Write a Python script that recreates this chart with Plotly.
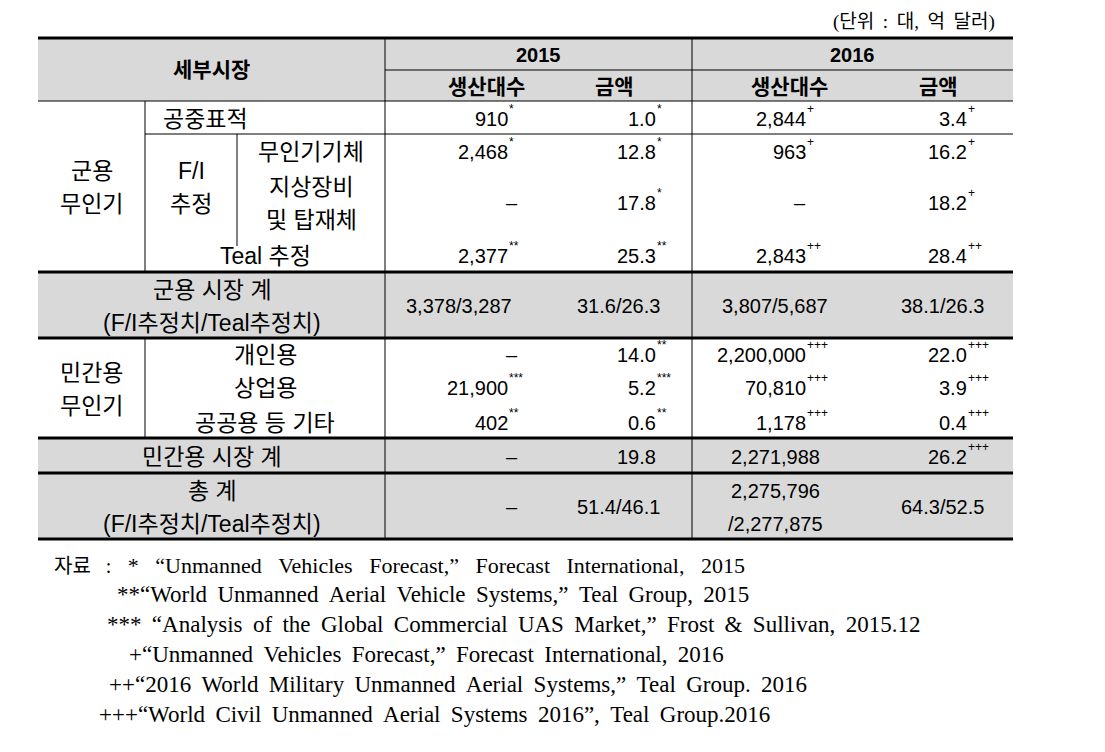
import plotly.graph_objects as go

# ---- data -------------------------------------------------------------
unit_note = "(단위 : 대, 억 달러)"
corner_label = "세부시장"
years = ["2015", "2016"]
sub_headers = ["생산대수", "금액"]

group_labels = [["군용", "무인기"], ["F/I", "추정"], ["민간용", "무인기"]]
row_labels = [
    ["공중표적"], ["무인기기체"], ["지상장비", "및 탑재체"], ["Teal 추정"],
    ["군용 시장 계", "(F/I추정치/Teal추정치)"],
    ["개인용"], ["상업용"], ["공공용 등 기타"],
    ["민간용 시장 계"], ["총 계", "(F/I추정치/Teal추정치)"],
]

prod_2015 = ["910", "2,468", "–", "2,377", "3,378/3,287", "–", "21,900", "402", "–", "–"]
mark_prod_2015 = ["*", "*", "", "**", "", "", "***", "**", "", ""]
amt_2015 = ["1.0", "12.8", "17.8", "25.3", "31.6/26.3", "14.0", "5.2", "0.6", "19.8", "51.4/46.1"]
mark_amt_2015 = ["*", "*", "*", "**", "", "**", "***", "**", "", ""]
prod_2016 = ["2,844", "963", "–", "2,843", "3,807/5,687", "2,200,000", "70,810", "1,178",
             "2,271,988", "2,275,796<br>/2,277,875"]
mark_prod_2016 = ["+", "+", "", "++", "", "+++", "+++", "+++", "", ""]
amt_2016 = ["3.4", "16.2", "18.2", "28.4", "38.1/26.3", "22.0", "3.9", "0.4", "26.2", "64.3/52.5"]
mark_amt_2016 = ["+", "+", "+", "++", "", "+++", "+++", "+++", "+++", ""]

source_lead = "자료 :"
sources = [
    "* “Unmanned Vehicles Forecast,” Forecast International, 2015",
    "**“World Unmanned Aerial Vehicle Systems,” Teal Group, 2015",
    "*** “Analysis of the Global Commercial UAS Market,” Frost &amp; Sullivan, 2015.12",
    "+“Unmanned Vehicles Forecast,” Forecast International, 2016",
    "++“2016 World Military Unmanned Aerial Systems,” Teal Group. 2016",
    "+++“World Civil Unmanned Aerial Systems 2016”, Teal Group.2016",
]

# ---- layout geometry (page pixels) -----------------------------------
W, H = 1105, 752
OFF = 8                          # page body margin
X0, X1 = 38, 1013
VX_LAB, VX_Y = 385, 692          # label | 2015 | 2016
VX_IN, VX_FI = 145, 237
Y_TOP, Y_YEAR, Y_HEAD = 38, 70, 101
Y_AIR = 134
Y_MIL, Y_MILSUM, Y_CIV, Y_CIVSUM, Y_BOT = 272, 338, 438, 473, 539
row_y = [119, 152, 203, 256, 306, 355, 388, 423, 457, 507]
right_x = [510, 658, 808, 969]
center_x = [459, 618, 775, 942]
GAP = 33
GRAY = "#d9d9d9"

SANS = "Liberation Sans, Noto Sans CJK KR, sans-serif"
SERIF = "Liberation Serif, Noto Sans CJK KR, serif"

fig = go.Figure()
shapes = []
ann = []


def rect(x0, y0, x1, y1):
    shapes.append(dict(type="rect", x0=x0, y0=y0, x1=x1, y1=y1,
                       fillcolor=GRAY, line_width=0, layer="below"))


def hline(y, x0, x1, w=1):
    shapes.append(dict(type="line", x0=x0, x1=x1, y0=y, y1=y, line=dict(color="black", width=w)))


def vline(x, y0, y1, w=1):
    shapes.append(dict(type="line", x0=x, x1=x, y0=y0, y1=y1, line=dict(color="black", width=w)))


def put(x, y, lines, size=20, anchor="center", bold=False, family=SANS):
    n = len(lines)
    for i, t in enumerate(lines):
        yy = y + (i - (n - 1) / 2) * GAP
        ann.append(dict(x=x, y=yy, text=f"<b>{t}</b>" if bold else t, showarrow=False,
                        xanchor=anchor, yanchor="middle",
                        font=dict(family=family, size=size, color="black")))


# gray bands
rect(X0, Y_TOP, X1, Y_HEAD)
rect(X0, Y_MIL, X1, Y_MILSUM)
rect(X0, Y_CIV, X1, Y_BOT)

# grid lines
hline(Y_TOP, X0, X1, 3)
hline(Y_YEAR, VX_LAB, X1)
hline(Y_HEAD, X0, X1)
hline(Y_AIR, VX_IN, X1)
hline(Y_MIL, X0, X1, 3)
hline(Y_MILSUM, X0, X1, 3)
hline(Y_CIV, X0, X1, 3)
hline(Y_CIVSUM, X0, X1, 3)
hline(Y_BOT, X0, X1, 3)
vline(VX_LAB, Y_TOP, Y_BOT)
vline(VX_Y, Y_TOP, Y_BOT)
vline(VX_IN, Y_HEAD, Y_MIL)
vline(VX_IN, Y_MILSUM, Y_CIV)
vline(VX_FI, Y_AIR, 246)

# header
put(997, 22, [unit_note.replace(" ", " \u2009")], size=19, anchor="right", family=SERIF)
put((X0 + VX_LAB) / 2, (Y_TOP + Y_HEAD) / 2, [corner_label], size=21, bold=True)
for i, yr in enumerate(years):
    xs = [(VX_LAB + VX_Y) / 2, (VX_Y + X1) / 2][i]
    put(xs, 55, [yr], size=20, bold=True)
    for j, s in enumerate(sub_headers):
        put(center_x[2 * i + j] + (27 if j == 0 and i == 0 else 14 if j == 0 else -4), 86, [s],
            size=21, bold=True)

# row labels
put((X0 + VX_IN) / 2, 187, group_labels[0], size=23)
put((VX_IN + VX_FI) / 2, 187, group_labels[1], size=23)
put((X0 + VX_IN) / 2, 389, group_labels[2], size=23)
label_x = [205, 311, 311, 265, 212, 265, 265, 265, 212, 212]
for lab, x, y in zip(row_labels, label_x, row_y):
    put(x, y, lab, size=23)

# values
cols = [(prod_2015, mark_prod_2015), (amt_2015, mark_amt_2015),
        (prod_2016, mark_prod_2016), (amt_2016, mark_amt_2016)]
centered = {(4, 0), (4, 1), (4, 2), (4, 3), (9, 1), (9, 2), (9, 3), (8, 2)}
for c, (vals, marks) in enumerate(cols):
    for r, (v, m) in enumerate(zip(vals, marks)):
        y = row_y[r]
        lines = v.split("<br>")
        if (r, c) in centered:
            put(center_x[c], y, lines, size=20)
            continue
        x = right_x[c] + (10 if v == "–" and c == 0 else 0)
        put(x, y, lines, size=20, anchor="right")
        if m:
            ann.append(dict(x=x - 3, y=y - 10, text=m, showarrow=False, xanchor="left",
                            yanchor="middle", font=dict(family=SANS, size=12, color="black")))

# sources
src_x = [52, 115, 105, 127, 107, 97]
for i, (s, x) in enumerate(zip(sources, src_x)):
    body = s.replace(" ", " \u2002")
    if i == 0:
        body = (f"<span style='font-size:20px'>{source_lead.replace(' ', ' \u2002')}</span>"
                " \u2002" + body)
    else:
        body = s.replace(" ", " \u2009")
    put(x, 565 + i * 29.8, [body], size=23 if i else 22, anchor="left", family=SERIF)

fig.update_layout(
    width=W, height=H, margin=dict(l=0, r=0, t=0, b=0),
    paper_bgcolor="white", plot_bgcolor="white",
    xaxis=dict(range=[OFF, W + OFF], visible=False, fixedrange=True),
    yaxis=dict(range=[H + OFF, OFF], visible=False, fixedrange=True),
    shapes=shapes, annotations=ann, showlegend=False,
)

fig.write_html("out.html")
